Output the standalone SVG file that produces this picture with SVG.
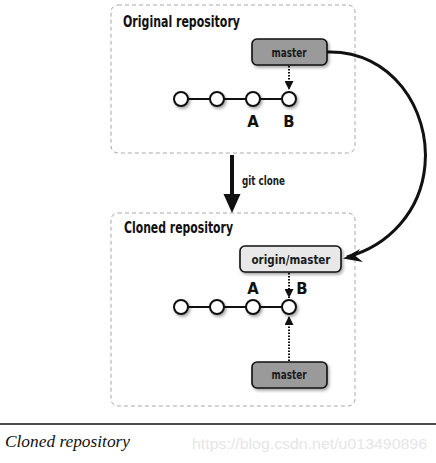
<svg xmlns="http://www.w3.org/2000/svg" width="436" height="463" viewBox="0 0 436 463">
<defs>
<style>
.repo{fill:#fff;stroke:#a8a8a8;stroke-width:1;stroke-dasharray:4 3}
.title{font-family:"DejaVu Sans Condensed","Liberation Sans Narrow","Liberation Sans",sans-serif;font-stretch:condensed;font-weight:bold;font-size:15.5px;fill:#111}
.lbl{font-family:"DejaVu Sans Condensed","Liberation Sans Narrow","Liberation Sans",sans-serif;font-stretch:condensed;font-weight:600;font-size:13px;fill:#1a1a1a}
.ab{font-family:"DejaVu Sans Condensed","Liberation Sans Narrow","Liberation Sans",sans-serif;font-stretch:condensed;font-weight:bold;font-size:16.5px;fill:#111;text-anchor:middle}
.dark{fill:#9a9a9a;stroke:#111;stroke-width:1.6}
.light{fill:#e8e8e8;stroke:#111;stroke-width:1.6}
.commit{fill:#fff;stroke:#111;stroke-width:2}
.link{stroke:#111;stroke-width:2;fill:none}
.dot{stroke:#111;stroke-width:2;stroke-dasharray:1.5 1.5;fill:none}
</style>
<filter id="sh" x="-50%" y="-50%" width="200%" height="200%">
<feDropShadow dx="1.5" dy="2" stdDeviation="1.5" flood-color="#000" flood-opacity="0.35"/>
</filter>
<marker id="tri" viewBox="0 0 10 10" refX="10" refY="5" markerWidth="9" markerHeight="9" markerUnits="userSpaceOnUse" orient="auto">
<path d="M0,0 L10,5 L0,10 z" fill="#111"/>
</marker>
</defs>

<g id="original-repo">
<rect class="repo" x="111" y="5" width="244" height="148" rx="7"/>
<text class="title" x="123" y="27" textLength="117" lengthAdjust="spacingAndGlyphs">Original repository</text>
</g>

<g id="cloned-repo">
<rect class="repo" x="111" y="213" width="244" height="193" rx="7"/>
<text class="title" x="124" y="233" textLength="109" lengthAdjust="spacingAndGlyphs">Cloned repository</text>
</g>

<g id="connectors">
<line class="link" x1="181" y1="99" x2="288" y2="99"/>
<line class="link" x1="181" y1="307" x2="288" y2="307"/>
<line class="dot" x1="289" y1="66" x2="289" y2="90" marker-end="url(#tri)"/>
<line class="dot" x1="289" y1="273" x2="289" y2="298" marker-end="url(#tri)"/>
<line class="dot" x1="289" y1="361" x2="289" y2="316" marker-end="url(#tri)"/>
<path d="M232,155 L232,196" stroke="#111" stroke-width="4" fill="none"/>
<path d="M223.5,194 L240.5,194 L232,213 z" fill="#111"/>
<text class="lbl" x="242" y="185" textLength="43" lengthAdjust="spacingAndGlyphs">git clone</text>
<path d="M327,52 C392,50 430,110 425,165 C421,212 388,246 347,257" stroke="#111" stroke-width="3" fill="none"/>
<path d="M343,258.5 L360,249 L355.5,256 L363,262 z" fill="#111"/>
</g>

<g id="orig-master">
<rect class="dark" x="252" y="39" width="75" height="26" rx="5" filter="url(#sh)"/>
<text class="lbl" x="289" y="57" text-anchor="middle" textLength="35" lengthAdjust="spacingAndGlyphs">master</text>
</g>

<g id="orig-commits">
<circle class="commit" cx="181" cy="99" r="7" filter="url(#sh)"/>
<circle class="commit" cx="217" cy="99" r="7" filter="url(#sh)"/>
<circle class="commit" cx="253" cy="99" r="7" filter="url(#sh)"/>
<circle class="commit" cx="289" cy="99" r="7" filter="url(#sh)"/>
<text class="ab" x="253" y="127">A</text>
<text class="ab" x="289" y="127">B</text>
</g>

<g id="origin-master">
<rect class="light" x="240" y="246" width="101" height="26" rx="5" filter="url(#sh)"/>
<text class="lbl" x="291" y="264" text-anchor="middle" textLength="79" lengthAdjust="spacingAndGlyphs">origin/master</text>
</g>

<g id="cloned-commits">
<circle class="commit" cx="181" cy="307" r="7" filter="url(#sh)"/>
<circle class="commit" cx="217" cy="307" r="7" filter="url(#sh)"/>
<circle class="commit" cx="253" cy="307" r="7" filter="url(#sh)"/>
<circle class="commit" cx="289" cy="307" r="7" filter="url(#sh)"/>
<text class="ab" x="253" y="294">A</text>
<text class="ab" x="302" y="294">B</text>
</g>

<g id="clone-master">
<rect class="dark" x="252" y="362" width="75" height="26" rx="5" filter="url(#sh)"/>
<text class="lbl" x="289" y="379" text-anchor="middle" textLength="35" lengthAdjust="spacingAndGlyphs">master</text>
</g>

<line x1="0" y1="424" x2="436" y2="424" stroke="#111" stroke-width="1.5"/>
<text x="5" y="447" font-family="Liberation Serif, serif" font-style="italic" font-size="16" fill="#111" textLength="125" lengthAdjust="spacingAndGlyphs">Cloned repository</text>
<text x="192" y="449" font-family="Liberation Sans, Arial, sans-serif" font-size="14" fill="#e6e6e6" textLength="235" lengthAdjust="spacingAndGlyphs">https://blog.csdn.net/u013490896</text>
</svg>
